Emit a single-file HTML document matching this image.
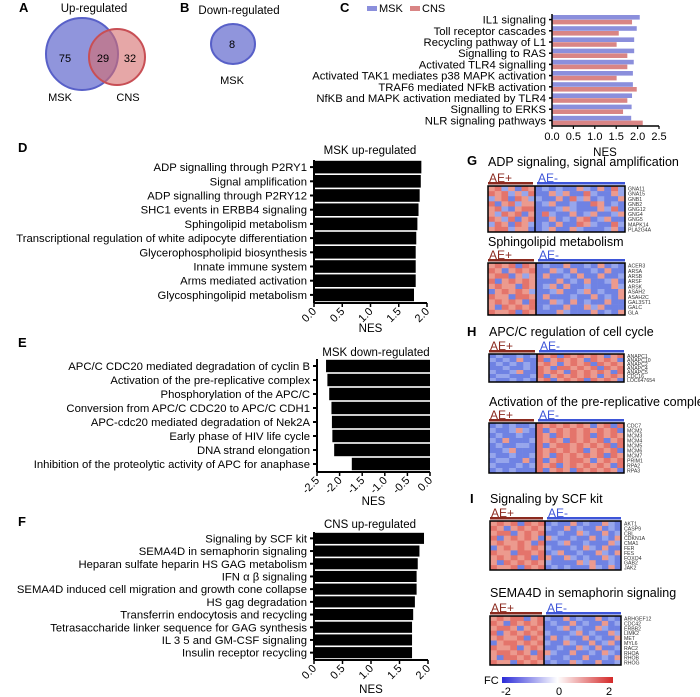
<!DOCTYPE html>
<html><head><meta charset="utf-8"><style>
html,body{margin:0;padding:0;background:#fff;}
svg{display:block;font-family:"Liberation Sans",Arial,sans-serif;}
</style></head><body>
<svg id="fig" width="700" height="697" viewBox="0 0 700 697" xmlns="http://www.w3.org/2000/svg">
<g>
<text x="19" y="12" font-size="13" font-weight="bold">A</text>
<text x="94" y="12" font-size="11.5" text-anchor="middle">Up-regulated</text>
<circle cx="82" cy="54" r="36" fill="#7c82d6" fill-opacity="0.85" stroke="#5860c8" stroke-width="2"/>
<circle cx="117" cy="57" r="28" fill="#d66c6c" fill-opacity="0.6" stroke="#c84f55" stroke-width="2"/>
<text x="65" y="62" font-size="11" text-anchor="middle">75</text>
<text x="103" y="62" font-size="11" text-anchor="middle">29</text>
<text x="130" y="62" font-size="11" text-anchor="middle">32</text>
<text x="60" y="101" font-size="11" text-anchor="middle">MSK</text>
<text x="128" y="101" font-size="11" text-anchor="middle">CNS</text>
</g>
<g>
<text x="180" y="12" font-size="13" font-weight="bold">B</text>
<text x="239" y="14" font-size="11.5" text-anchor="middle">Down-regulated</text>
<ellipse cx="233" cy="44" rx="22" ry="20" fill="#7c82d6" fill-opacity="0.85" stroke="#5860c8" stroke-width="2"/>
<text x="232" y="48" font-size="11" text-anchor="middle">8</text>
<text x="232" y="84" font-size="11" text-anchor="middle">MSK</text>
</g>
<text x="340" y="12" font-size="13" font-weight="bold">C</text>
<rect x="367" y="6" width="10" height="5" fill="#8b8fdc"/>
<text x="379" y="12" font-size="11">MSK</text>
<rect x="410" y="6" width="10" height="5" fill="#d98585"/>
<text x="422" y="12" font-size="11">CNS</text>
<g id="plots"></g>
<g id="heat"></g>
<text x="467" y="165" font-size="13" font-weight="bold">G</text>
<text x="467" y="336" font-size="13" font-weight="bold">H</text>
<text x="470" y="503" font-size="13" font-weight="bold">I</text>
<text x="18" y="152" font-size="13" font-weight="bold">D</text>
<text x="18" y="347" font-size="13" font-weight="bold">E</text>
<text x="18" y="526" font-size="13" font-weight="bold">F</text>
<defs><linearGradient id="fcg" x1="0" x2="1" y1="0" y2="0"><stop offset="0" stop-color="#2b2bd8"/><stop offset="0.5" stop-color="#ffffff"/><stop offset="1" stop-color="#d42828"/></linearGradient></defs>
<text x="484" y="684" font-size="11">FC</text>
<rect x="502" y="677" width="111" height="6" fill="url(#fcg)"/>
<text x="506" y="695" font-size="11" text-anchor="middle">-2</text>
<text x="559" y="695" font-size="11" text-anchor="middle">0</text>
<text x="609" y="695" font-size="11" text-anchor="middle">2</text>
</svg>
<script>
const cCats=["IL1 signaling","Toll receptor cascades","Recycling pathway of L1","Signalling to RAS","Activated TLR4 signalling","Activated TAK1 mediates p38 MAPK activation","TRAF6 mediated NFkB activation","NfKB and MAPK activation mediated by TLR4","Signalling to ERKS","NLR signaling pathways"];
const cMsk=[2.05,1.98,1.92,1.92,1.91,1.89,1.89,1.87,1.86,1.85];
const cCns=[1.87,1.56,1.51,1.76,1.76,1.51,1.98,1.76,1.66,2.12];
const cTicks=["0.0","0.5","1.0","1.5","2.0","2.5"];
const dCats=["ADP signalling through P2RY1","Signal amplification","ADP signalling through P2RY12","SHC1 events in ERBB4 signaling","Sphingolipid metabolism","Transcriptional regulation of white adipocyte differentiation","Glycerophospholipid biosynthesis","Innate immune system","Arms mediated activation","Glycosphingolipid metabolism"];
const dVals=[1.9,1.89,1.87,1.85,1.83,1.81,1.8,1.8,1.8,1.77];
const eCats=["APC/C CDC20 mediated degradation of cyclin B","Activation of the pre-replicative complex","Phosphorylation of the APC/C","Conversion from APC/C CDC20 to APC/C CDH1","APC-cdc20 mediated degradation of Nek2A","Early phase of HIV life cycle","DNA strand elongation","Inhibition of the proteolytic activity of APC for anaphase"];
const eVals=[-2.3,-2.27,-2.23,-2.18,-2.17,-2.16,-2.12,-1.73];
const fCats=["Signaling by SCF kit","SEMA4D in semaphorin signaling","Heparan sulfate heparin HS GAG metabolism","IFN \u03b1 \u03b2 signaling","SEMA4D induced cell migration and growth cone collapse","HS gag degradation","Transferrin endocytosis and recycling","Tetrasaccharide linker sequence for GAG synthesis","IL 3 5 and GM-CSF signaling","Insulin receptor recycling"];
const fVals=[1.93,1.85,1.82,1.8,1.8,1.77,1.74,1.72,1.72,1.72];
const upTicks=["0.0","0.5","1.0","1.5","2.0"];
const downTicks=["-2.5","-2.0","-1.5","-1.0","-0.5","0.0"];

const hmG1=["34130430101003103041","43413140031300410031","13404311003041301003","40341330130010043010","34103440001310003140","31434030410030130013","43140340030103401300","14304310103004310041","34413300130031000130"];
const hmG2=["34340430100300103010","43034340031030010300","34403130300103003001","40343430003010300130","34330430130300100031","03434310013001301003","43304430300010030103","34343040031030100300","30434340100300313000","43340430003100030103"];
const hmH1=["01001014340434343034","10103004034343043430","01010103430343404343","00100104304434340434","10013004343043434304","01100014034343430343","10010103403434043430"];
const hmH2=["01010014343434303404","10013104034343434340","01001004304343404343","10300014343043434034","01001104034434343404","00130004343434034340","10010014304343434043","01100304034344303434","10001014340343434304","01010004034304343430"];
const hmI1=["34340434010030100310","43034343100301003010","34403434001003100301","40343430310010030103","34334304001300100031","03434343100010310300","43304434013001003103","34343404300310100310","30434343100003130010","43340434010100031030"];
const hmI2=["34344034100301003010","43043434010030100301","34430343001301003100","40343434100013010031","34334043030100301003","03443434100310030130","43340343001003103001","34434304310030010310","30443434100100300103","43304343010031003001"];
const genesG1=["GNA11","GNA15","GNB1","GNB2","GNG12","GNG4","GNG5","MAPK14","PLA2G4A"];
const genesG2=["ACER3","ARSA","ARSB","ARSF","ARSK","ASAH2","ASAH2C","GAL3ST1","GALC","GLA"];
const genesH1=["ANAPC1","ANAPC10","ANAPC2","ANAPC4","ANAPC5","CDC16","LOC647654"];
const genesH2=["CDC7","MCM2","MCM3","MCM4","MCM5","MCM6","MCM7","PRIM1","RPA2","RPA3"];
const genesI1=["AKT1","CASP9","CBL","CDKN1A","CMA1","FER","FES","FOXO4","GAB2","JAK2"];
const genesI2=["ARHGEF12","CDC42","ERBB2","LIMK2","MET","MYL6","RAC2","RHOA","RHOB","RHOG"];

const NS="http://www.w3.org/2000/svg";
function mk(tag,attrs,parent,txt){const e=document.createElementNS(NS,tag);for(const k in attrs)e.setAttribute(k,attrs[k]);if(txt!==undefined)e.textContent=txt;parent.appendChild(e);return e;}
const plots=document.getElementById('plots');

(function(){
 const g=mk('g',{},plots);
 
 
 const x0=552,sc=42.8,top=14,rh=11.2,n=cCats.length;
 const xs=v=>x0+v*sc;
 cCats.forEach((c,i)=>{
  const y=top+i*rh;
  const b1=mk('rect',{x:x0,y:y+1,width:xs(cMsk[i])-x0,height:4.6,fill:'#8b8fdc'},g);
  
  
  const b2=mk('rect',{x:x0,y:y+5.8,width:xs(cCns[i])-x0,height:4.6,fill:'#d98585'},g);
  
  
  const t=mk('text',{x:x0-6,y:y+rh/2+4,'font-size':11.3,'text-anchor':'end'},g,c);
  
  
  mk('line',{x1:x0-3,x2:x0,y1:y+rh/2,y2:y+rh/2,stroke:'#000','stroke-width':1.5},g);
 });
 const yb=top+n*rh;
 mk('line',{x1:x0,x2:x0,y1:top,y2:yb,stroke:'#000','stroke-width':1.5},g);
 mk('line',{x1:x0,x2:xs(2.5),y1:yb,y2:yb,stroke:'#000','stroke-width':1.5},g);
 cTicks.forEach(tk=>{const v=parseFloat(tk);
  mk('line',{x1:xs(v),x2:xs(v),y1:yb,y2:yb+3,stroke:'#000','stroke-width':1.2},g);
  const t=mk('text',{x:xs(v),y:yb+14,'font-size':11,'text-anchor':'middle'},g,tk);
  
  
 });
 const at=mk('text',{x:605,y:156,'font-size':11.5,'text-anchor':'middle'},g,'NES');
 
 
})();

function hbar(name,title,cats,vals,ticks,vmin,vmax,xL,xR,top,bottom,titleX,titleY,nesY){
 const g=mk('g',{},plots);
 
 
 const sc=(xR-xL)/(vmax-vmin);const xs=v=>xL+(v-vmin)*sc;
 const rh=(bottom-top)/cats.length;
 const x0=xs(0);
 const tt=mk('text',{x:titleX,y:titleY,'font-size':11.5,'text-anchor':'middle'},g,title);
 
 
 cats.forEach((c,i)=>{
  const y=top+i*rh;const xv=xs(vals[i]);
  const b=mk('rect',{x:Math.min(x0,xv),y:y+0.8,width:Math.abs(xv-x0),height:rh-1.6,fill:'#000'},g);
  
  
  const t=mk('text',{x:xL-7,y:y+rh/2+4,'font-size':11.3,'text-anchor':'end'},g,c);
  
  
  mk('line',{x1:xL-4,x2:xL,y1:y+rh/2,y2:y+rh/2,stroke:'#000','stroke-width':2},g);
 });
 mk('line',{x1:xL,x2:xL,y1:top,y2:bottom+1,stroke:'#000','stroke-width':2},g);
 mk('line',{x1:xL,x2:xR,y1:bottom+1,y2:bottom+1,stroke:'#000','stroke-width':2},g);
 ticks.forEach(tk=>{const v=parseFloat(tk);const x=xs(v);
  mk('line',{x1:x,x2:x,y1:bottom+1,y2:bottom+5,stroke:'#000','stroke-width':1.5},g);
  const t=mk('text',{x:x+3,y:bottom+10,'font-size':11,'text-anchor':'end',transform:`rotate(-45 ${x+3} ${bottom+10})`},g,tk);
  
  
 });
 const at=mk('text',{x:(xL+xR)/2,y:nesY,'font-size':11.5,'text-anchor':'middle'},g,'NES');
 
 
}
hbar('chart-d','MSK up-regulated',dCats,dVals,upTicks,0,2,314,427,160,302,370,154,332);
hbar('chart-e','MSK down-regulated',eCats,eVals,downTicks,-2.5,0,317,430,359,471,376,356,505);
hbar('chart-f','CNS up-regulated',fCats,fVals,upTicks,0,2,314,428,532,659,370,528,693);

const heat=document.getElementById('heat');
const hcol=['#6f82e3','#97a6ec','#c8b6d8','#ec9a8e','#e4746b'];
function heatmap(name,title,data,genes,nPlus,x0,xDiv,x1,y0,y1,titleY){
 const g=mk('g',{},heat);
 
 
 const t=mk('text',{x:x0,y:titleY,'font-size':12.5},g,title);
 
 
 const gy=y0-4;
 const p=mk('text',{x:x0+1,y:gy,'font-size':12,fill:'#8b2a1f'},g,'AE+');
 
 
 const m=mk('text',{x:xDiv+3,y:gy,'font-size':12,fill:'#3d55d8'},g,'AE-');
 
 
 const bp=mk('rect',{x:x0,y:gy,width:xDiv-x0-2,height:2.5,fill:'#8b2a1f'},g);
 
 
 const bm=mk('rect',{x:xDiv+2,y:gy,width:x1-xDiv-2,height:2.5,fill:'#3d55d8'},g);
 
 
 const nR=data.length,nC=data[0].length,nMinus=nC-nPlus;
 const rh=(y1-y0)/nR,cwP=(xDiv-x0)/nPlus,cwM=(x1-xDiv)/nMinus;
 data.forEach((row,r)=>{for(let c=0;c<nC;c++){
  const x=c<nPlus?x0+c*cwP:xDiv+(c-nPlus)*cwM;const w=c<nPlus?cwP:cwM;
  const cell=mk('rect',{x:x,y:y0+r*rh,width:w+0.3,height:rh+0.3,fill:hcol[+row[c]]},g);
  
  
 }});
 mk('rect',{x:x0,y:y0,width:x1-x0,height:y1-y0,fill:'none',stroke:'#000','stroke-width':1.5},g);
 mk('line',{x1:xDiv,x2:xDiv,y1:y0,y2:y1,stroke:'#000','stroke-width':1.5},g);
 genes.forEach((gn,i)=>{
  const t2=mk('text',{x:x1+3,y:y0+(i+0.5)*((y1-y0)/genes.length)+2,'font-size':5.2,fill:'#333'},g,gn);
  
  
 });
}
heatmap('heatmap-adp','ADP signaling, signal amplification',hmG1,genesG1,7,488,535,625,186,232,166);
heatmap('heatmap-sphingolipid','Sphingolipid metabolism',hmG2,genesG2,7,488,536,625,263,315,246);
heatmap('heatmap-apcc','APC/C regulation of cell cycle',hmH1,genesH1,7,489,537,624,354,382,336);
heatmap('heatmap-prereplicative','Activation of the pre-replicative complex',hmH2,genesH2,7,489,536,624,423,473,406);
heatmap('heatmap-scf','Signaling by SCF kit',hmI1,genesI1,8,490,545,621,521,570,503);
heatmap('heatmap-sema4d','SEMA4D in semaphorin signaling',hmI2,genesI2,8,490,544,621,616,665,597);
</script>
</body></html>
